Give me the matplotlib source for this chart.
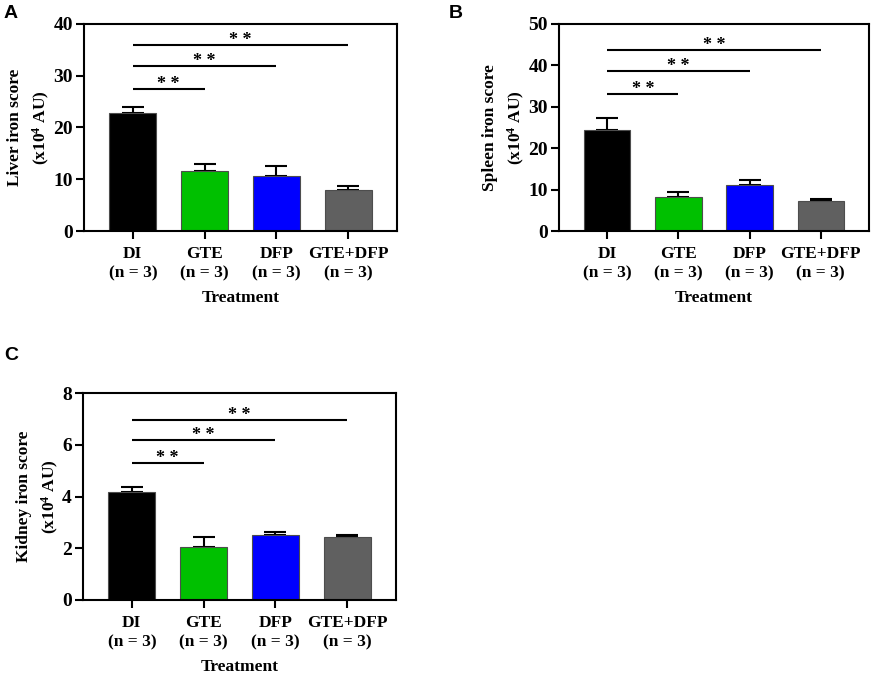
import numpy as np
import matplotlib
matplotlib.use('Agg')
import matplotlib.pyplot as plt

plt.rcParams['font.family'] = ['Liberation Serif', 'DejaVu Serif']
plt.rcParams['font.weight'] = 'bold'
plt.rcParams['mathtext.fontset'] = 'custom'
plt.rcParams['mathtext.rm'] = 'Liberation Serif:bold'
plt.rcParams['mathtext.bf'] = 'Liberation Serif:bold'
plt.rcParams['mathtext.default'] = 'rm'

groups = ['DI\n(n = 3)', 'GTE\n(n = 3)', 'DFP\n(n = 3)', 'GTE+DFP\n(n = 3)']
colors = ['#000000', '#00c000', '#0000ff', '#606060']

liver_mean = [22.8, 11.5, 10.6, 8.0]
liver_err = [1.2, 1.5, 1.9, 0.7]
liver_sig = [27.5, 31.8, 35.9]

spleen_mean = [24.4, 8.2, 11.0, 7.2]
spleen_err = [2.8, 1.2, 1.4, 0.6]
spleen_sig = [33.1, 38.6, 43.6]

kidney_mean = [4.17, 2.06, 2.53, 2.42]
kidney_err = [0.19, 0.38, 0.09, 0.09]
kidney_sig = [5.29, 6.17, 6.95]

W, H = 872, 674
fig = plt.figure(figsize=(W / 100, H / 100), dpi=100)


def panel(rect, mean, err, sig, ymax, ystep, ylabel, letter, letter_xy):
    l, t, r, b = rect
    ax = fig.add_axes([l / W, 1 - b / H, (r - l) / W, (b - t) / H])
    x = np.arange(len(groups))
    ax.bar(x, mean, width=0.65, color=colors, edgecolor='#4d4d4d', linewidth=0.8, zorder=2)
    ax.errorbar(x, mean, yerr=[np.zeros(len(err)), err], fmt='none', ecolor='black',
                elinewidth=1.5, capsize=8, capthick=1.5, zorder=1)
    for i, y in enumerate(sig):
        ax.plot([0, i + 1], [y, y], color='black', lw=1.5, solid_capstyle='butt')
        ax.text((i + 1) / 2, y, '* *', ha='center', va='baseline', fontsize=13)
    ax.set_xlim(-0.68, 3.68)
    ax.set_ylim(0, ymax)
    ax.set_yticks(np.arange(0, ymax + ystep / 2, ystep))
    ax.set_xticks(x)
    ax.set_xticklabels(groups, fontsize=12.5, fontweight='bold', linespacing=1.25)
    for s in ax.spines.values():
        s.set_linewidth(1.5)
    ax.tick_params(axis='both', direction='out', length=6, width=1.5, labelsize=14)
    ax.tick_params(axis='x', labelsize=12.5, pad=5)
    ax.tick_params(axis='y', pad=2)
    for lab in ax.get_yticklabels():
        lab.set_fontweight('bold')
    ax.set_ylabel(ylabel, fontsize=12.5, fontweight='bold', linespacing=1.5, labelpad=1)
    ax.set_xlabel('Treatment', fontsize=12.5, fontweight='bold', labelpad=6)
    fig.text(letter_xy[0] / W, 1 - letter_xy[1] / H, letter, fontsize=14, fontweight='bold',
             family='Liberation Sans', ha='left', va='center')
    return ax


panel((84, 24, 397, 231), liver_mean, liver_err, liver_sig, 40, 10,
      'Liver iron score\n(x10$^{4}$ AU)', 'A', (4, 14))
panel((559, 24, 869, 231), spleen_mean, spleen_err, spleen_sig, 50, 10,
      'Spleen iron score\n(x10$^{4}$ AU)', 'B', (449, 14))
panel((83, 393, 396, 600), kidney_mean, kidney_err, kidney_sig, 8, 2,
      'Kidney iron score\n(x10$^{4}$ AU)', 'C', (4, 355))

plt.savefig('out.png', dpi=100)
